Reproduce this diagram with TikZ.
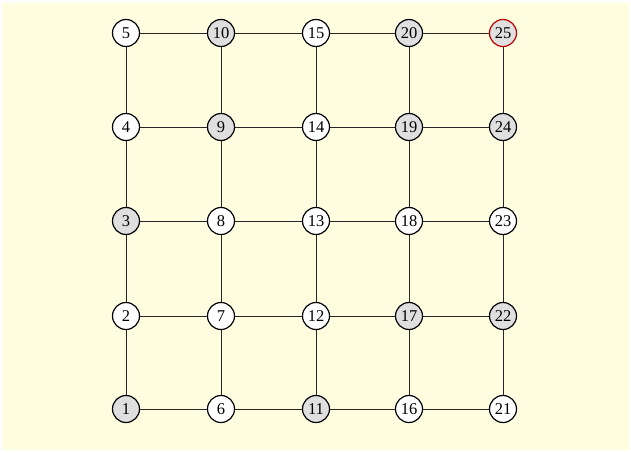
\documentclass[tikz,border=0pt]{standalone}
\usepackage{fontspec}
\setmainfont{Liberation Serif}
\begin{document}
\begin{tikzpicture}[x=1pt,y=-1pt,
  vert/.style={circle,draw=black,line width=1.2pt,minimum size=27pt,inner sep=0pt,fill=white,font=\fontsize{16.5}{16.5}\selectfont},
  shaded/.style={vert,fill=gray!25},
  goal/.style={vert,fill=gray!25,draw=red!75!black},
  edge/.style={draw=black!85,line width=0.95pt}]
\useasboundingbox (0,0) rectangle (631,452);
\fill[white] (0,0) rectangle (631,452);
\fill[yellow!12] (2,3) rectangle (629,450);
\def\cA{126}\def\cB{221}\def\cC{316}\def\cD{409}\def\cE{503}
\def\rA{33}\def\rB{127}\def\rC{221}\def\rD{316}\def\rE{409}
\node[shaded] (n1) at (\cA,\rE) {1};
\node[vert] (n2) at (\cA,\rD) {2};
\node[shaded] (n3) at (\cA,\rC) {3};
\node[vert] (n4) at (\cA,\rB) {4};
\node[vert] (n5) at (\cA,\rA) {5};
\node[vert] (n6) at (\cB,\rE) {6};
\node[vert] (n7) at (\cB,\rD) {7};
\node[vert] (n8) at (\cB,\rC) {8};
\node[shaded] (n9) at (\cB,\rB) {9};
\node[shaded] (n10) at (\cB,\rA) {10};
\node[shaded] (n11) at (\cC,\rE) {11};
\node[vert] (n12) at (\cC,\rD) {12};
\node[vert] (n13) at (\cC,\rC) {13};
\node[vert] (n14) at (\cC,\rB) {14};
\node[vert] (n15) at (\cC,\rA) {15};
\node[vert] (n16) at (\cD,\rE) {16};
\node[shaded] (n17) at (\cD,\rD) {17};
\node[vert] (n18) at (\cD,\rC) {18};
\node[shaded] (n19) at (\cD,\rB) {19};
\node[shaded] (n20) at (\cD,\rA) {20};
\node[vert] (n21) at (\cE,\rE) {21};
\node[shaded] (n22) at (\cE,\rD) {22};
\node[vert] (n23) at (\cE,\rC) {23};
\node[shaded] (n24) at (\cE,\rB) {24};
\node[goal] (n25) at (\cE,\rA) {25};
\foreach \c in {0,5,10,15,20}{
  \foreach \r in {1,2,3,4}{
    \pgfmathtruncatemacro{\a}{\c+\r}
    \pgfmathtruncatemacro{\b}{\c+\r+1}
    \draw[edge] (n\a) -- (n\b);
  }
}
\foreach \r in {1,...,5}{
  \foreach \c in {0,5,10,15}{
    \pgfmathtruncatemacro{\a}{\c+\r}
    \pgfmathtruncatemacro{\b}{\c+\r+5}
    \draw[edge] (n\a) -- (n\b);
  }
}
\end{tikzpicture}
\end{document}
